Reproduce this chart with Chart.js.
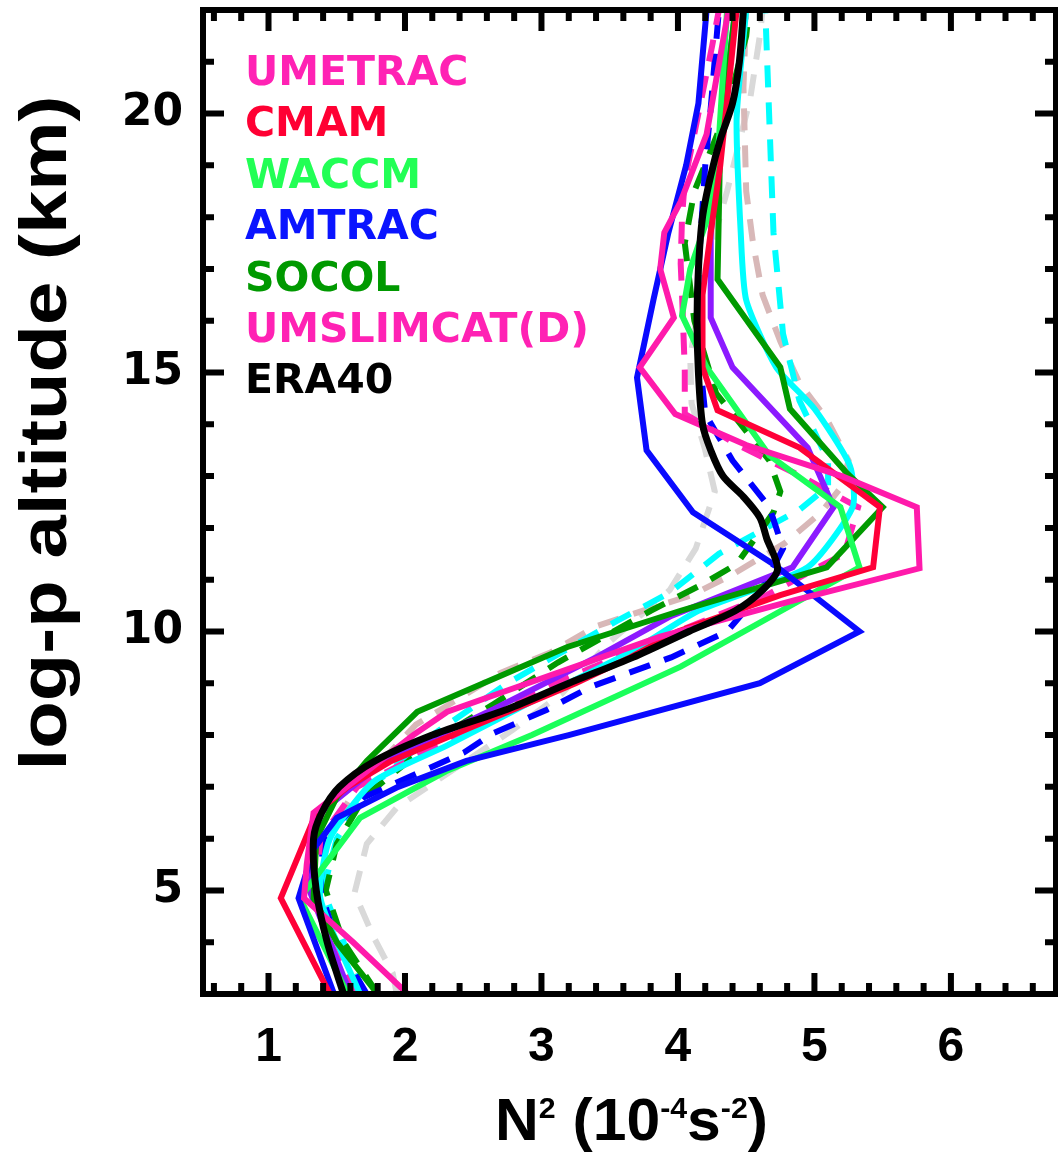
<!DOCTYPE html>
<html>
<head>
<meta charset="utf-8">
<script src="https://cdn.jsdelivr.net/npm/chart.js@4.4.1/dist/chart.umd.min.js"></script>
<style>
  html, body { margin: 0; padding: 0; background: #fff; }
  canvas { display: block; }
</style>
</head>
<body>
<canvas id="chart" width="1058" height="1155"></canvas>
<script>
// axis ranges and labelled ticks
const xMin = 0.52, xMax = 6.77, yMin = 3, yMax = 22;
const xTickValues = [1, 2, 3, 4, 5, 6];
const yTickValues = [5, 10, 15, 20];

// legend (drawn inside the plot, coloured text)
const legendLabels = ['UMETRAC', 'CMAM', 'WACCM', 'AMTRAC', 'SOCOL', 'UMSLIMCAT(D)', 'ERA40'];
const legendColors = ['#ff22b4', '#ff0033', '#22ff55', '#0a14ff', '#009900', '#ff22b4', '#000000'];

// profiles: altitude (km) and N2 (1e-4 s-2)
const eraZ  = [3.0, 4.0, 5.0, 6.0, 6.5, 7.0, 7.5, 8.0, 8.5, 9.0, 9.5, 10.0, 10.4, 10.8, 11.2, 11.8, 12.2, 12.6, 13.0, 13.5, 14.0, 15.0, 16.0, 17.0, 18.0, 18.8, 19.5, 20.2, 21.0, 22.0];
const eraN2 = [1.55, 1.43, 1.35, 1.33, 1.39, 1.52, 1.78, 2.2, 2.75, 3.2, 3.67, 4.08, 4.42, 4.62, 4.73, 4.65, 4.6, 4.48, 4.33, 4.24, 4.18, 4.15, 4.14, 4.15, 4.18, 4.24, 4.31, 4.4, 4.45, 4.48];

const umZ  = [3.0, 4.0, 4.85, 5.5, 6.5, 7.3, 8.0, 8.45, 9.0, 9.9, 10.6, 11.22, 12.4, 13.0, 13.6, 14.2, 15.1, 16.06, 17.0, 17.7, 18.3, 19.6, 22.0];
const umN2 = [2.02, 1.62, 1.26, 1.28, 1.33, 1.72, 2.06, 2.31, 2.9, 3.87, 4.85, 5.77, 5.75, 5.2, 4.5, 3.98, 3.72, 3.97, 3.87, 3.9, 4.02, 4.21, 4.37];

const cmZ  = [3.0, 4.85, 6.5, 7.0, 7.5, 8.0, 8.5, 9.0, 9.5, 10.0, 10.7, 11.24, 12.4, 13.55, 14.27, 15.1, 16.5, 17.7, 19.0, 20.5, 22.0];
const cmN2 = [1.45, 1.09, 1.35, 1.58, 1.9, 2.35, 2.8, 3.25, 3.65, 4.0, 4.75, 5.43, 5.48, 4.89, 4.29, 4.18, 4.18, 4.24, 4.31, 4.37, 4.43];

const waZ  = [3.0, 4.85, 6.4, 7.3, 8.0, 9.32, 11.24, 12.4, 13.4, 15.1, 16.1, 17.0, 18.0, 19.5, 22.0];
const waN2 = [1.58, 1.23, 1.67, 2.3, 2.93, 4.02, 5.33, 5.19, 4.67, 4.21, 4.03, 4.09, 4.22, 4.3, 4.36];

const amZ  = [3.0, 4.85, 5.8, 6.4, 7.0, 7.5, 8.0, 9.0, 10.0, 11.3, 12.3, 13.5, 14.9, 16.4, 17.7, 19.0, 20.2, 22.0];
const amN2 = [1.48, 1.22, 1.33, 1.5, 1.95, 2.45, 3.2, 4.6, 5.33, 4.7, 4.11, 3.77, 3.7, 3.82, 3.93, 4.06, 4.15, 4.21];

const soZ  = [3.0, 4.0, 4.85, 6.0, 6.8, 7.5, 8.45, 9.7, 10.4, 11.24, 12.4, 13.05, 14.3, 15.1, 16.8, 19.5, 22.0];
const soN2 = [1.8, 1.5, 1.33, 1.35, 1.5, 1.72, 2.09, 3.19, 4.02, 5.09, 5.5, 5.24, 4.82, 4.75, 4.29, 4.31, 4.42];

const puZ  = [3.0, 5.0, 6.5, 7.5, 8.5, 9.5, 10.3, 11.24, 12.4, 13.55, 15.1, 16.06, 17.7, 20.0, 22.0];
const puN2 = [1.6, 1.3, 1.38, 1.85, 2.65, 3.4, 3.95, 4.84, 5.14, 4.95, 4.4, 4.24, 4.24, 4.33, 4.42];

const cyZ  = [3.0, 4.85, 6.0, 7.1, 7.8, 8.8, 9.6, 10.4, 11.24, 12.4, 13.2, 14.3, 15.1, 16.4, 17.7, 19.9, 22.0];
const cyN2 = [1.67, 1.38, 1.45, 1.77, 2.31, 3.04, 3.65, 4.15, 4.95, 5.28, 5.26, 5.0, 4.72, 4.5, 4.46, 4.43, 4.5];

const cdZ  = [3.0, 5.0, 6.0, 7.0, 8.0, 9.0, 9.6, 10.2, 10.75, 11.5, 12.35, 12.8, 13.3, 14.46, 15.75, 17.7, 22.0];
const cdN2 = [1.7, 1.4, 1.5, 1.75, 2.2, 2.75, 3.15, 3.55, 3.94, 4.3, 4.89, 5.1, 5.1, 4.89, 4.77, 4.7, 4.64];

const bdZ  = [3.0, 4.0, 5.0, 6.0, 6.8, 7.66, 8.04, 8.49, 8.93, 9.5, 10.0, 10.74, 11.6, 12.4, 13.3, 14.2, 15.5, 17.0, 19.0, 20.1, 22.0];
const bdN2 = [1.72, 1.5, 1.38, 1.4, 1.7, 2.43, 2.65, 3.04, 3.36, 3.95, 4.36, 4.6, 4.77, 4.67, 4.4, 4.2, 4.15, 4.15, 4.2, 4.24, 4.3];

const gdZ  = [3.0, 4.0, 5.0, 5.9, 6.8, 7.85, 8.6, 9.4, 10.4, 10.9, 11.3, 12.3, 12.7, 13.3, 14.6, 16.0, 17.5, 18.5, 20.0, 21.5, 22.0];
const gdN2 = [1.8, 1.55, 1.42, 1.5, 1.7, 2.19, 2.65, 3.12, 3.8, 4.17, 4.43, 4.7, 4.75, 4.67, 4.28, 4.12, 4.05, 4.12, 4.35, 4.5, 4.52];

const gyZ  = [3.0, 3.4, 4.1, 4.95, 5.9, 6.6, 7.5, 8.1, 8.8, 9.8, 10.8, 11.6, 12.7, 13.5, 14.4, 15.3, 17.0, 18.5, 20.3, 21.5, 22.0];
const gyN2 = [1.94, 1.91, 1.77, 1.63, 1.72, 1.94, 2.45, 2.79, 3.15, 3.5, 3.94, 4.13, 4.27, 4.2, 4.1, 4.09, 4.2, 4.36, 4.53, 4.6, 4.62];

const rsZ  = [3.0, 4.0, 5.0, 6.0, 7.0, 8.2, 9.2, 9.6, 10.1, 10.45, 10.7, 11.1, 11.7, 12.3, 12.8, 13.3, 14.1, 14.8, 15.6, 16.5, 17.5, 18.5, 20.5, 22.0];
const rsN2 = [1.7, 1.5, 1.4, 1.42, 1.65, 2.08, 2.7, 3.07, 3.4, 3.8, 4.1, 4.4, 4.78, 5.05, 5.2, 5.25, 5.09, 4.89, 4.75, 4.62, 4.55, 4.5, 4.48, 4.5];

const pdZ  = [3.0, 4.0, 5.0, 6.0, 7.0, 7.6, 8.1, 9.0, 9.5, 10.0, 10.7, 11.2, 11.5, 12.4, 13.0, 13.6, 14.2, 15.05, 16.5, 17.1, 18.0, 18.7, 21.3, 22.0];
const pdN2 = [1.65, 1.45, 1.35, 1.38, 1.65, 2.1, 2.45, 3.1, 3.55, 4.0, 4.65, 5.0, 5.22, 5.32, 4.9, 4.44, 4.05, 4.05, 4.03, 4.02, 4.03, 4.05, 4.25, 4.3];

function pts(n2, z) { return n2.map((v, i) => ({x: v, y: z[i]})); }

const dash = [22, 15];
function line(label, n2, z, color, opts) {
  return Object.assign({
    label, data: pts(n2, z), borderColor: color, backgroundColor: color,
    borderWidth: 6, pointRadius: 0, showLine: true, fill: false, tension: 0
  }, opts || {});
}

// first entry is drawn on top
const datasets = [
  line('ERA40', eraN2, eraZ, '#000000', {borderWidth: 7, tension: 0.3}),
  line('UMETRAC', umN2, umZ, '#ff1aab'),
  line('CMAM', cmN2, cmZ, '#ff0038'),
  line('AMTRAC', amN2, amZ, '#0a0aff'),
  line('WACCM', waN2, waZ, '#1aff5a'),
  line('SOCOL', soN2, soZ, '#009a00'),
  line('purple', puN2, puZ, '#8c1aff'),
  line('cyan', cyN2, cyZ, '#00ffff', {tension: 0.2}),
  line('UMSLIMCAT(D)', pdN2, pdZ, '#ff22b4', {borderDash: dash}),
  line('blue dashed', bdN2, bdZ, '#0000ff', {borderDash: dash}),
  line('green dashed', gdN2, gdZ, '#009a00', {borderDash: dash}),
  line('cyan dashed', cdN2, cdZ, '#00ffff', {borderDash: dash}),
  line('rosy dashed', rsN2, rsZ, '#d8b8b8', {borderDash: dash}),
  line('grey dashed', gyN2, gyZ, '#d9d9d9', {borderDash: dash})
];

// frame with inward ticks, legend text, axis titles
const decorPlugin = {
  id: 'decor',
  afterDatasetsDraw(chart) {
    const {ctx, chartArea: a, scales: {x, y}} = chart;
    ctx.save();
    ctx.strokeStyle = '#000';
    ctx.lineWidth = 6;
    ctx.lineCap = 'butt';
    ctx.strokeRect(a.left, a.top, a.right - a.left, a.bottom - a.top);
    ctx.beginPath();
    for (let k = Math.ceil(xMin * 5); k <= Math.floor(xMax * 5); k++) {
      const px = x.getPixelForValue(k / 5);
      const len = k % 5 === 0 ? 21 : 11;
      ctx.moveTo(px, a.bottom); ctx.lineTo(px, a.bottom - len);
      ctx.moveTo(px, a.top); ctx.lineTo(px, a.top + len);
    }
    for (let v = yMin + 1; v < yMax; v++) {
      const py = y.getPixelForValue(v);
      const len = v % 5 === 0 ? 21 : 11;
      ctx.moveTo(a.left, py); ctx.lineTo(a.left + len, py);
      ctx.moveTo(a.right, py); ctx.lineTo(a.right - len, py);
    }
    ctx.stroke();

    // legend
    ctx.font = 'bold 41px "DejaVu Sans"';
    ctx.textBaseline = 'alphabetic';
    ctx.textAlign = 'left';
    legendLabels.forEach((t, i) => {
      ctx.fillStyle = legendColors[i];
      ctx.fillText(t, a.left + 42, a.top + 75 + i * 51.4);
    });

    // y title
    ctx.fillStyle = '#000';
    ctx.save();
    ctx.translate(66, 433);
    ctx.rotate(-Math.PI / 2);
    ctx.font = 'bold 66px "Liberation Sans"';
    const yt = 'log-p altitude (km)';
    const w = ctx.measureText(yt).width;
    ctx.scale(675 / w, 1);
    ctx.textAlign = 'center';
    ctx.fillText(yt, 0, 0);
    ctx.restore();

    // x title with superscripts
    const parts = [['N', 0], ['2', 1], [' (10', 0], ['-4', 1], ['s', 0], ['-2', 1], [')', 0]];
    const big = 'bold 60px "Liberation Sans"', small = 'bold 30px "Liberation Sans"';
    let total = 0;
    parts.forEach(p => { ctx.font = p[1] ? small : big; total += ctx.measureText(p[0]).width; });
    ctx.save();
    ctx.translate(495, 1140);
    ctx.scale(273 / total, 1);
    let cx = 0;
    parts.forEach(p => {
      ctx.font = p[1] ? small : big;
      ctx.fillText(p[0], cx, p[1] ? -22 : 0);
      cx += ctx.measureText(p[0]).width;
    });
    ctx.restore();
    ctx.restore();
  }
};

new Chart(document.getElementById('chart'), {
  type: 'scatter',
  data: {datasets},
  options: {
    responsive: false,
    animation: false,
    layout: {padding: {top: 10, right: 2, left: 0, bottom: 0}},
    plugins: {legend: {display: false}, tooltip: {enabled: false}},
    scales: {
      x: {
        type: 'linear', min: xMin, max: xMax,
        grid: {display: false, drawTicks: false},
        border: {display: false},
        afterBuildTicks: s => { s.ticks = xTickValues.map(v => ({value: v})); },
        afterFit: s => { s.height = 161; s.paddingLeft = 0; s.paddingRight = 0; },
        ticks: {font: {family: 'Liberation Sans', weight: 'bold', size: 48}, color: '#000', padding: 25, maxRotation: 0, autoSkip: false}
      },
      y: {
        type: 'linear', min: yMin, max: yMax,
        grid: {display: false, drawTicks: false},
        border: {display: false},
        afterBuildTicks: s => { s.ticks = yTickValues.map(v => ({value: v})); },
        afterFit: s => { s.width = 203; s.paddingTop = 0; s.paddingBottom = 0; },
        ticks: {font: {family: 'DejaVu Sans', weight: 'bold', size: 44}, color: '#000', padding: 20, autoSkip: false}
      }
    }
  },
  plugins: [decorPlugin]
});
</script>
</body>
</html>
